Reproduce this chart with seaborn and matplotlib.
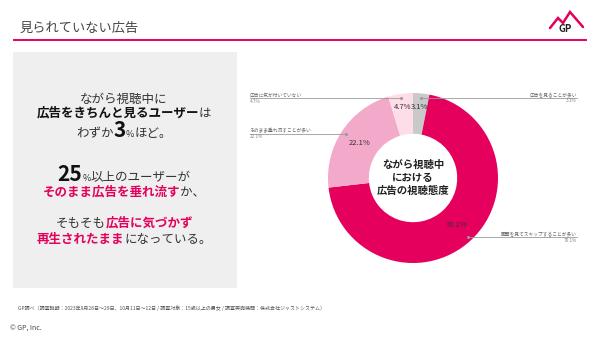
import numpy as np
import matplotlib
matplotlib.use("Agg")
import matplotlib.pyplot as plt
import seaborn as sns

sns.set_theme(style="white")
plt.rcParams['font.family'] = ['Noto Sans CJK JP', 'DejaVu Sans']

# ---- data ----
categories = ["広告を見ることが多い", "画面を見てスキップすることが多い",
              "そのまま垂れ流すことが多い", "広告に気が付いていない"]
values = [3.1, 70.1, 22.1, 4.7]
label_side = ["right", "right", "left", "left"]
title = "見られていない広告"
center_label = "ながら視聴中\nにおける\n広告の視聴態度"
footer = ("GP調べ（調査時期：2023年9月28日～29日、10月11日～12日 / 調査対象：15歳以上の男女 / "
          "調査実施機関：株式会社ジャストシステム）")
copyright_text = "© GP, Inc."

PINK = "#E4005C"
slice_colors = ["#C9C9C9", PINK, "#F3A9C9", "#FCDDE8"]

W, H = 600, 338
fig = plt.figure(figsize=(W / 100, H / 100), dpi=100)
fig.patch.set_facecolor("white")

# background overlay in pixel coordinates
bg = fig.add_axes([0, 0, 1, 1])
bg.set_xlim(0, W)
bg.set_ylim(H, 0)
bg.axis("off")

# title and underline
bg.text(20, 28, title, fontsize=9.5, color="#444444", va="center", ha="left")
bg.plot([13, 587], [40, 40], color=PINK, lw=1.4, solid_capstyle="butt")

# gray box
bg.add_patch(plt.Rectangle((13, 52), 224, 236, facecolor="#EFEFEF", edgecolor="none"))

renderer = fig.canvas.get_renderer()


def rich(ax, cx, base, pieces):
    arts = []
    for txt, kw in pieces:
        arts.append(ax.text(0, base, txt, ha="left", va="baseline", **kw))
    widths = [a.get_window_extent(renderer).width for a in arts]
    x = cx - sum(widths) / 2
    for a, w in zip(arts, widths):
        a.set_x(x)
        x += w


N = dict(fontsize=9, color="#333333")
B = dict(fontsize=9, color="#111111", fontweight="bold")
P = dict(fontsize=9, color=PINK, fontweight="bold")
BIG = dict(fontsize=15, color="#111111", fontweight="bold")
SM = dict(fontsize=6.5, color="#333333")

cx = 124
rich(bg, cx, 103, [("ながら視聴中に", N)])
rich(bg, cx, 117, [("広告をきちんと見るユーザー", B), ("は", N)])
rich(bg, cx, 137, [("わずか", N), ("3", BIG), ("%", SM), ("ほど。", N)])
rich(bg, cx, 181, [("25", BIG), ("%", SM), ("以上のユーザーが", N)])
rich(bg, cx, 196, [("そのまま広告を垂れ流す", P), ("か、", N)])
rich(bg, cx, 227, [("そもそも", N), ("広告に気づかず", P)])
rich(bg, cx, 243, [("再生されたまま", P), ("になっている。", N)])

# footer
bg.text(18, 308, footer, fontsize=3.6, color="#555555", va="center", ha="left")
bg.text(10, 329, copyright_text, fontsize=5, color="#444444", va="center", ha="left")

# ---- donut ----
ccx, ccy, R = 413, 178, 85
pie_ax = fig.add_axes([(ccx - R) / W, (H - ccy - R) / H, 2 * R / W, 2 * R / H])
wedges, _ = pie_ax.pie(values, colors=slice_colors, startangle=90, counterclock=False,
                       radius=1.0, wedgeprops=dict(width=0.48, edgecolor="none"))
pie_ax.set_xlim(-1, 1)
pie_ax.set_ylim(-1, 1)
pie_ax.axis("off")

pie_ax.text(0, 0, center_label, ha="center", va="center", fontsize=7.5,
            fontweight="bold", color="#222222", linespacing=1.35)

# top overlay for leader lines
top = fig.add_axes([0, 0, 1, 1], facecolor="none")
top.set_xlim(0, W)
top.set_ylim(H, 0)
top.axis("off")

fig.canvas.draw()
to_px = lambda pt: top.transData.inverted().transform(pie_ax.transData.transform(pt))

for w, v, cat, side in zip(wedges, values, categories, label_side):
    mid = np.deg2rad((w.theta1 + w.theta2) / 2)
    # percentage inside ring
    r_lab = 0.84 if v < 10 else 0.75
    pie_ax.text(r_lab * np.cos(mid), r_lab * np.sin(mid), f"{v}%", ha="center",
                va="center", fontsize=5.5, color="#333333")
    # leader line
    ax_, ay_ = to_px((0.95 * np.cos(mid), 0.95 * np.sin(mid)))
    xend = 250 if side == "left" else 577
    top.plot([ax_, xend], [ay_, ay_], color="#9A9A9A", lw=0.6)
    top.plot([ax_], [ay_], marker="o", ms=1.2, color="#9A9A9A")
    ha = "left" if side == "left" else "right"
    top.text(xend, ay_ - 0.8, cat, fontsize=3.4, color="#666666", ha=ha, va="bottom")
    top.text(xend, ay_ + 0.8, f"{v}%", fontsize=3.4, color="#888888", ha=ha, va="top")

# logo
top.plot([550, 558, 563, 570, 583], [28, 18, 23, 12, 27], color=PINK, lw=1.8,
         solid_joinstyle="miter")
top.text(565, 29, "GP", fontsize=7, color="#222222", ha="center", va="center",
         fontweight="bold", style="italic")

fig.savefig("out.png", dpi=100)
